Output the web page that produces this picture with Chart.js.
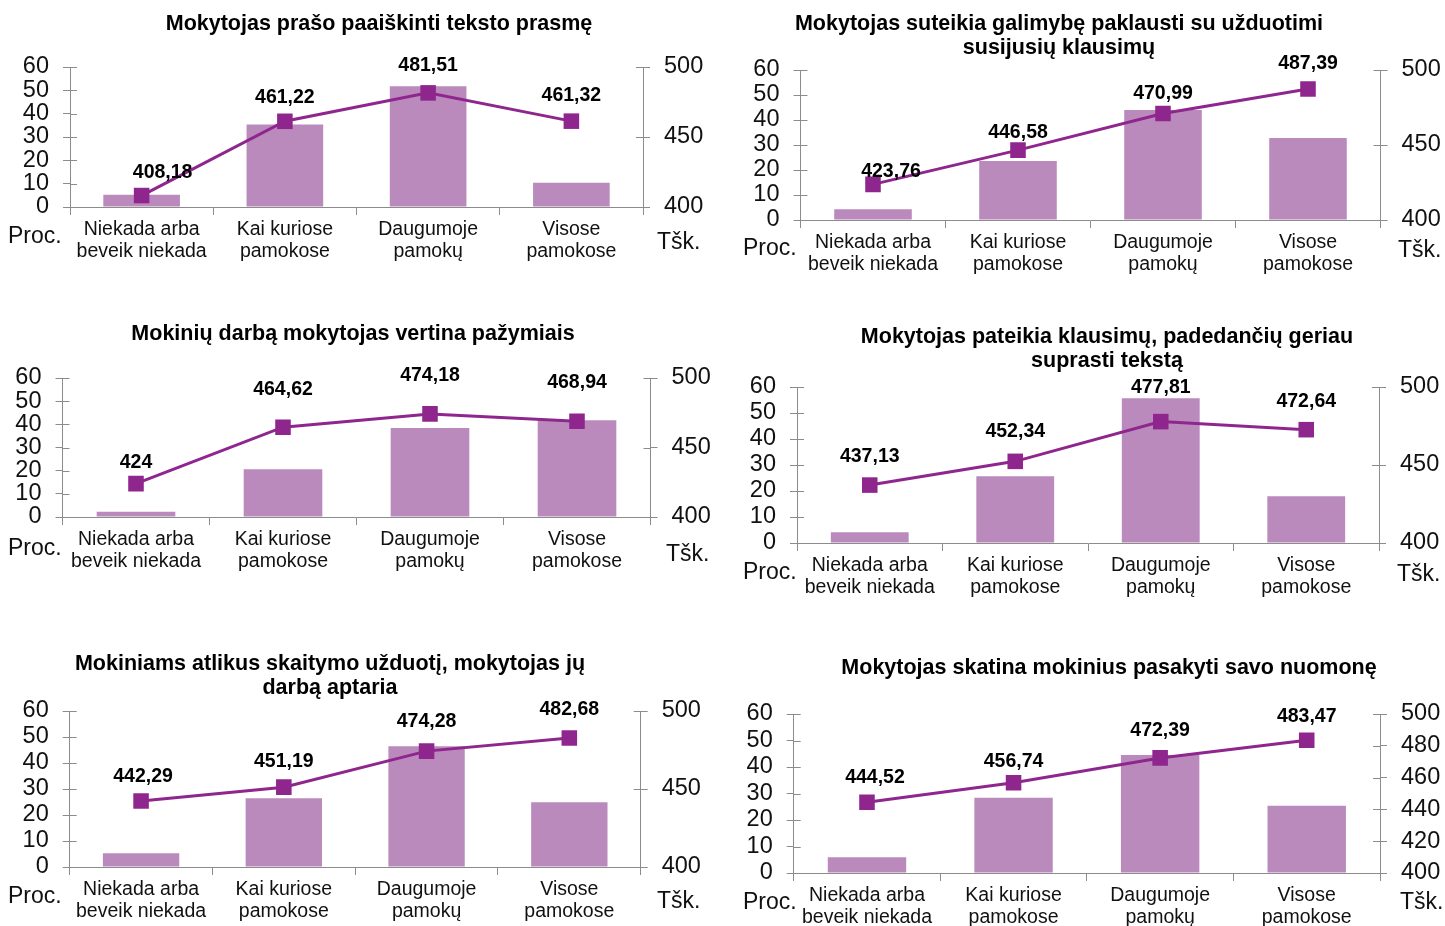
<!DOCTYPE html>
<html><head><meta charset="utf-8">
<script src="https://cdn.jsdelivr.net/npm/chart.js@4.4.1/dist/chart.umd.min.js"></script>
<style>
html,body{margin:0;padding:0;background:#fff;width:1445px;height:926px;overflow:hidden;position:relative}
canvas{position:absolute}
</style></head><body>
<script>
// ---------- DATA ----------
const categories = [["Niekada arba","beveik niekada"],["Kai kuriose","pamokose"],["Daugumoje","pamokų"],["Visose","pamokose"]];
const titles = [
  ["Mokytojas prašo paaiškinti teksto prasmę"],
  ["Mokytojas suteikia galimybę paklausti su užduotimi","susijusių klausimų"],
  ["Mokinių darbą mokytojas vertina pažymiais"],
  ["Mokytojas pateikia klausimų, padedančių geriau","suprasti tekstą"],
  ["Mokiniams atlikus skaitymo užduotį, mokytojas jų","darbą aptaria"],
  ["Mokytojas skatina mokinius pasakyti savo nuomonę"]
];
const pct1 = [5.3, 35.4, 51.7, 10.4];
const pts1 = [408.18, 461.22, 481.51, 461.32];
const pct2 = [4.3, 23.6, 44.0, 32.8];
const pts2 = [423.76, 446.58, 470.99, 487.39];
const pct3 = [2.3, 20.6, 38.4, 41.8];
const pts3 = [424, 464.62, 474.18, 468.94];
const pct4 = [4.1, 25.7, 55.7, 18.0];
const pts4 = [437.13, 452.34, 477.81, 472.64];
const pct5 = [5.3, 26.4, 46.4, 24.9];
const pts5 = [442.29, 451.19, 474.28, 482.68];
const pct6 = [5.9, 28.4, 44.5, 25.4];
const pts6 = [444.52, 456.74, 472.39, 483.47];
const leftUnit = "Proc.";
const rightUnit = "Tšk.";
const pctSeries = [pct1, pct2, pct3, pct4, pct5, pct6];
const ptsSeries = [pts1, pts2, pts3, pts4, pts5, pts6];
const rightSteps = [50, 50, 50, 50, 50, 20];

// ---------- LAYOUT / STYLE ----------
const FONT = '"Liberation Sans", Arial, Helvetica, sans-serif';
const BAR = '#bb8abd', LINE = '#8f268e', AXIS = '#8c8c8c';
const layouts = [
  {cx:0,   cy:0,   cw:758, L:70,    R:643,   T:67,  B:207, titleY:24,  procX:8,   procY:237, tskX:657,  tskY:243, dx:[21,0,0,0], dy:[23,24,27,26]},
  {cx:670, cy:0,   cw:778, L:800.5, R:1380.5,T:70,  B:220, titleY:24,  procX:743, procY:249, tskX:1398, tskY:251, dx:[18,0,0,0], dy:[13,18,20,25]},
  {cx:-10, cy:300, cw:726, L:62.5,  R:650.5, T:378, B:517, titleY:334, procX:8,   procY:549, tskX:666,  tskY:555, dx:[0,0,0,0],  dy:[21,38,38,39]},
  {cx:740, cy:300, cw:734, L:797,   R:1379,  T:387, B:543, titleY:337, procX:743, procY:573, tskX:1397, tskY:575, dx:[0,0,0,0],  dy:[28,30,34,28]},
  {cx:-55, cy:620, cw:770, L:69.7,  R:640.7, T:711, B:867, titleY:664, procX:8,   procY:897, tskX:657,  tskY:902, dx:[2,0,0,0],  dy:[24,26,29,28]},
  {cx:735, cy:620, cw:748, L:793.7, R:1380,  T:714, B:873, titleY:668, procX:743, procY:903, tskX:1400, tskY:903, dx:[8,0,0,0],  dy:[25,21,27,24]}
];
const TITLE_SIZE = 21.5, TITLE_LH = 24, XAXIS_H = 70;

const valueLabels = {
  id: 'valueLabels',
  afterDatasetsDraw(chart, args, opts) {
    const meta = chart.getDatasetMeta(1);
    const ds = chart.data.datasets[1].data;
    const ctx = chart.ctx;
    ctx.save();
    ctx.font = 'bold 19.5px ' + FONT;
    ctx.fillStyle = '#000';
    ctx.textAlign = 'center';
    ctx.textBaseline = 'middle';
    meta.data.forEach((p, i) => {
      ctx.fillText(String(ds[i]).replace('.', ','), p.x + opts.dx[i], p.y - opts.dy[i]);
    });
    ctx.restore();
  }
};
const unitLabels = {
  id: 'unitLabels',
  afterDraw(chart, args, opts) {
    const ctx = chart.ctx;
    ctx.save();
    ctx.font = '23px ' + FONT;
    ctx.fillStyle = '#111';
    ctx.textAlign = 'left';
    ctx.textBaseline = 'middle';
    ctx.fillText(leftUnit, opts.procX, opts.procY);
    ctx.fillText(rightUnit, opts.tskX, opts.tskY);
    ctx.restore();
  }
};
const innerTicks = {
  id: 'innerTicks',
  beforeDatasetsDraw(chart) {
    const ctx = chart.ctx;
    ctx.save();
    ctx.strokeStyle = AXIS; ctx.lineWidth = 1;
    ['y', 'y1'].forEach(id => {
      const s = chart.scales[id];
      const x = id === 'y' ? s.right : s.left;
      const d = id === 'y' ? 7 : -7;
      s.ticks.forEach((t, i) => {
        const y = Math.round(s.getPixelForTick(i)) + 0.5;
        ctx.beginPath(); ctx.moveTo(x, y); ctx.lineTo(x + d, y); ctx.stroke();
      });
    });
    ctx.restore();
  }
};

layouts.forEach((lay, k) => {
  const canvas = document.createElement('canvas');
  const ch = lay.B - lay.cy + XAXIS_H;
  canvas.width = lay.cw; canvas.height = ch;
  canvas.style.left = lay.cx + 'px'; canvas.style.top = lay.cy + 'px';
  document.body.appendChild(canvas);
  const lines = titles[k].length;
  const padTop = lay.titleY - lay.cy - TITLE_LH / 2;
  const padBottom = lay.T - lay.cy - lines * TITLE_LH - padTop;
  const wl = lay.L - lay.cx;
  const wr = lay.cx + lay.cw - lay.R;
  new Chart(canvas, {
    data: {
      labels: categories,
      datasets: [
        {type: 'bar', data: pctSeries[k], yAxisID: 'y', backgroundColor: BAR, borderWidth: 0,
         barPercentage: 0.535, categoryPercentage: 1, order: 2},
        {type: 'line', data: ptsSeries[k], yAxisID: 'y1', borderColor: LINE, backgroundColor: LINE,
         borderWidth: 3, pointStyle: 'rect', pointRadius: 11, pointBorderWidth: 0,
         pointBackgroundColor: LINE, tension: 0, order: 1}
      ]
    },
    options: {
      responsive: false, animation: false, devicePixelRatio: 1,
      layout: {padding: 0},
      plugins: {
        legend: {display: false}, tooltip: {enabled: false},
        title: {display: true, text: titles[k], color: '#000',
                font: {family: FONT, size: TITLE_SIZE, weight: 'bold', lineHeight: TITLE_LH / TITLE_SIZE},
                padding: {top: padTop, bottom: padBottom}},
        valueLabels: {dx: lay.dx, dy: lay.dy},
        unitLabels: {procX: lay.procX - lay.cx, procY: lay.procY - lay.cy, tskX: lay.tskX - lay.cx, tskY: lay.tskY - lay.cy}
      },
      scales: {
        x: {
          offset: true,
          grid: {offset: true, drawOnChartArea: false, drawTicks: true, tickLength: 8, color: AXIS},
          border: {display: true, color: AXIS},
          ticks: {color: '#111', padding: 4, maxRotation: 0, autoSkip: false,
                  font: {family: FONT, size: 19.5, lineHeight: 1.13}},
          afterFit: s => { s.height = XAXIS_H; }
        },
        y: {
          position: 'left', min: 0, max: 60,
          grid: {drawOnChartArea: false, drawTicks: true, tickLength: 7, color: AXIS},
          border: {display: true, color: AXIS},
          ticks: {stepSize: 10, autoSkip: false, color: '#111', padding: 14, font: {family: FONT, size: 23.5}},
          afterFit: s => { s.width = wl; }
        },
        y1: {
          position: 'right', min: 400, max: 500,
          grid: {drawOnChartArea: false, drawTicks: true, tickLength: 7, color: AXIS},
          border: {display: true, color: AXIS},
          ticks: {stepSize: rightSteps[k], autoSkip: false, color: '#111', padding: 14, font: {family: FONT, size: 23.5}},
          afterFit: s => { s.width = wr; }
        }
      }
    },
    plugins: [innerTicks, valueLabels, unitLabels]
  });
});
</script>
</body></html>
